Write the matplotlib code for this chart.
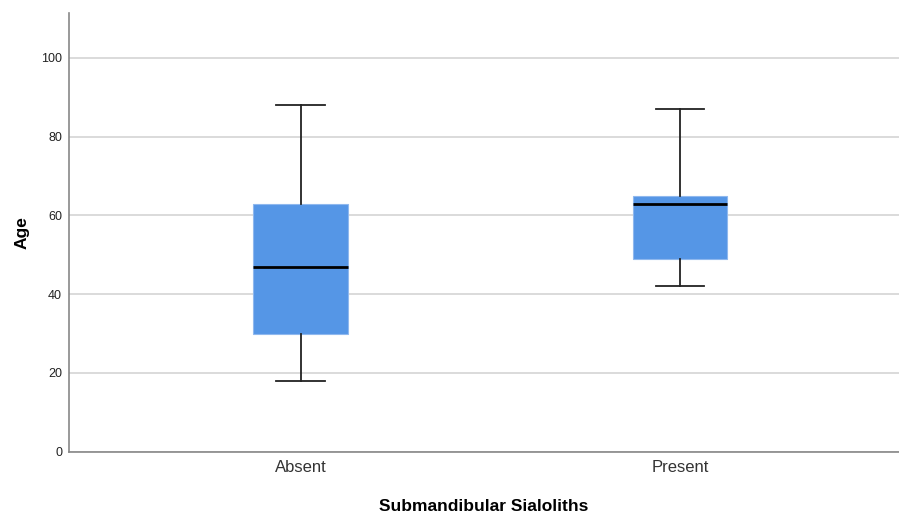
import matplotlib.pyplot as plt

plt.rcParams["font.family"] = ["Liberation Sans", "DejaVu Sans"]

groups = ["Absent", "Present"]
whisker_low = [18, 42]
q1 = [30, 49]
median = [47, 63]
q3 = [63, 65]
whisker_high = [88, 87]

stats = []
for i, name in enumerate(groups):
    stats.append({"label": name, "whislo": whisker_low[i], "q1": q1[i],
                  "med": median[i], "q3": q3[i], "whishi": whisker_high[i]})

fig = plt.figure(figsize=(8.99, 5.12), dpi=100)
ax = fig.add_axes([0.0768, 0.1178, 0.9232, 0.8562])

ax.bxp(stats, positions=[1, 2], widths=0.25, patch_artist=True, showfliers=False,
       boxprops=dict(facecolor="#5596e6", edgecolor="#8fb8ee", linewidth=0.8),
       medianprops=dict(color="black", linewidth=2),
       whiskerprops=dict(color="#222222", linewidth=1.3),
       capprops=dict(color="#222222", linewidth=1.3),
       capwidths=0.127, zorder=3)

ax.set_xlim(0.39, 2.577)
ax.set_ylim(0, 111.3)
ax.set_yticks([0, 20, 40, 60, 80, 100])
ax.yaxis.grid(True, color="#d4d4d4", linewidth=1.2, zorder=0)
ax.set_axisbelow(True)

for s in ["top", "right"]:
    ax.spines[s].set_visible(False)
for s in ["left", "bottom"]:
    ax.spines[s].set_color("#888888")
    ax.spines[s].set_linewidth(1.2)

ax.tick_params(axis="both", length=0)
ax.tick_params(axis="y", labelsize=9, colors="#222222", pad=5)
ax.tick_params(axis="x", labelsize=12, colors="#333333", pad=6)

ax.set_ylabel("Age", fontsize=12.5, fontweight="bold", labelpad=8)
ax.set_xlabel("Submandibular Sialoliths", fontsize=12.5, fontweight="bold", labelpad=17)

plt.savefig("out.png", dpi=100)
